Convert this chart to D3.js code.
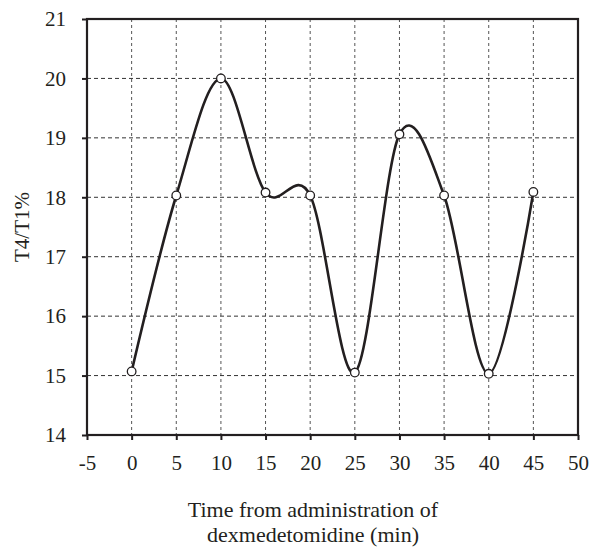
<!DOCTYPE html>
<html>
<head>
<meta charset="utf-8">
<script src="https://cdn.jsdelivr.net/npm/d3@7"></script>
<style>
  body { margin: 0; background: #fff; }
  svg text { font-family: "Liberation Serif", "Times New Roman", serif; fill: #231f20; }
</style>
</head>
<body>
<div id="chart"></div>
<script>
// time points (min) and T4/T1 ratio
var minutes = [0, 5, 10, 15, 20, 25, 30, 35, 40, 45]
var ratio = [15.07, 18.03, 20.0, 18.08, 18.03, 15.05, 19.06, 18.03, 15.03, 18.09]

var xTicks = [-5, 0, 5, 10, 15, 20, 25, 30, 35, 40, 45, 50]
var yTicks = [14, 15, 16, 17, 18, 19, 20, 21]

var W = 596, H = 548
var margin = {top: 19, right: 18, bottom: 113, left: 87}
var serif = "'Liberation Serif', 'Times New Roman', serif"

var svg = d3.select("#chart").append("svg")
    .attr("width", W)
    .attr("height", H)

var x = d3.scaleLinear()
  .domain([-5, 50])
  .range([margin.left, W - margin.right])

var y = d3.scaleLinear()
  .domain([14, 21])
  .range([H - margin.bottom, margin.top])

// dashed grid
svg.append("g")
  .selectAll("line")
  .data(xTicks.slice(1, -1))
  .join("line")
    .attr("x1", d => x(d)).attr("x2", d => x(d))
    .attr("y1", y(21)).attr("y2", y(14))
    .attr("stroke", "#555")
    .attr("stroke-width", 1)
    .attr("stroke-dasharray", "3,3")

svg.append("g")
  .selectAll("line")
  .data(yTicks.slice(1, -1))
  .join("line")
    .attr("x1", x(-5)).attr("x2", x(50))
    .attr("y1", d => y(d)).attr("y2", d => y(d))
    .attr("stroke", "#333")
    .attr("stroke-width", 1)
    .attr("stroke-dasharray", "4,3")

// axes
var xAxis = svg.append("g")
  .attr("transform", "translate(0," + y(14) + ")")
  .attr("font-family", serif)
  .call(d3.axisBottom(x).tickValues(xTicks).tickFormat(d3.format("d")).tickSize(5).tickPadding(15))
var yAxis = svg.append("g")
  .attr("transform", "translate(" + x(-5) + ",0)")
  .attr("font-family", serif)
  .call(d3.axisLeft(y).tickValues(yTicks).tickFormat(d3.format("d")).tickSize(5).tickPadding(16))

svg.selectAll(".domain").remove()
svg.selectAll(".tick line").attr("stroke", "#231f20").attr("stroke-width", 2)
svg.selectAll(".tick text")
  .style("font-family", serif)
  .style("font-size", "21px")
  .attr("fill", "#231f20")
// plain hyphen for the negative tick, as in the figure
xAxis.selectAll(".tick text").text(d => String(d))

// frame
svg.append("rect")
  .attr("x", x(-5)).attr("y", y(21))
  .attr("width", x(50) - x(-5))
  .attr("height", y(14) - y(21))
  .attr("fill", "none")
  .attr("stroke", "#231f20")
  .attr("stroke-width", 2.2)

// smoothed line (Excel-like)
var line = d3.line()
  .x((d, i) => x(minutes[i]))
  .y(d => y(d))
  .curve(d3.curveCardinal.tension(0))

svg.append("path")
  .datum(ratio)
  .attr("d", line)
  .attr("fill", "none")
  .attr("stroke", "#231f20")
  .attr("stroke-width", 2.6)

svg.append("g")
  .selectAll("circle")
  .data(ratio)
  .join("circle")
    .attr("cx", (d, i) => x(minutes[i]))
    .attr("cy", d => y(d))
    .attr("r", 4.3)
    .attr("fill", "#fff")
    .attr("stroke", "#231f20")
    .attr("stroke-width", 1.3)

// axis titles
var cx = 313
var title = svg.append("text")
  .attr("text-anchor", "middle")
  .style("font-size", "22px")
title.append("tspan").attr("x", cx).attr("y", 517).text("Time from administration of")
title.append("tspan").attr("x", cx).attr("y", 542).text("dexmedetomidine (min)")

svg.append("text")
  .attr("transform", "translate(29," + (y(14) + y(21)) / 2 + ") rotate(-90)")
  .attr("text-anchor", "middle")
  .style("font-size", "21px")
  .text("T4/T1%")
</script>
</body>
</html>
